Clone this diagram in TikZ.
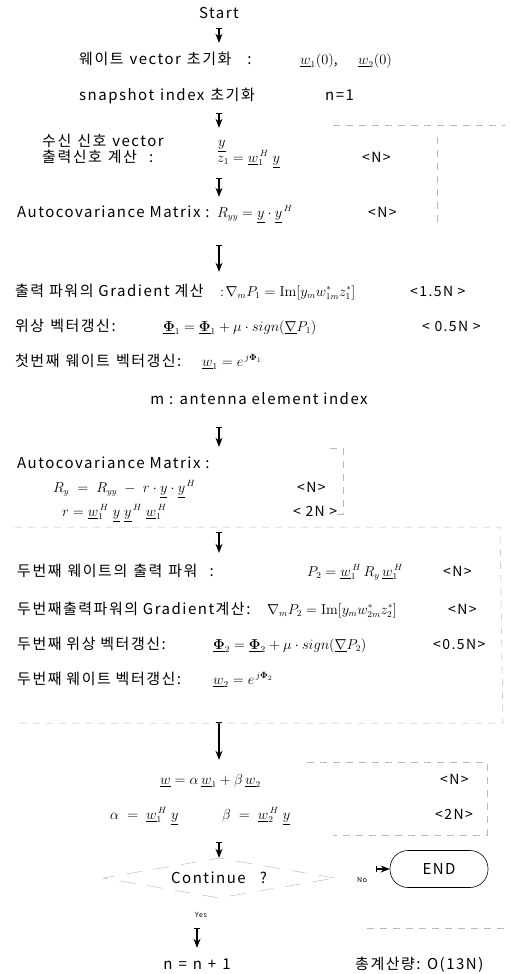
\documentclass[tikz,border=0pt]{standalone}
\usepackage{amsmath}
\usepackage[no-math]{fontspec}
\setmainfont{Noto Sans CJK KR}[LetterSpace=10]
\usepackage{tikz}
\usetikzlibrary{shapes.geometric, arrows.meta, positioning}

\newcommand{\uv}[1]{\underline{#1}}
\newcommand{\gap}{\hspace{6pt}}

\begin{document}
\begin{tikzpicture}[
        x=1pt, y=-1pt,
        txt/.style={anchor=west, inner sep=2pt, text height=11pt, text depth=3pt, font=\fontsize{15}{17}\selectfont},
        formula/.style={txt, font=\fontsize{13.5}{15}\selectfont},
        cost/.style={txt, font=\fontsize{14}{16}\selectfont},
        tag/.style={inner sep=1pt, font=\fontsize{7}{8}\selectfont},
        arrow/.style={{Bar[width=6pt]}-{Stealth[length=9pt, width=7pt]}, line width=1.1pt},
        frame/.style={draw=gray!55, dash pattern=on 7pt off 6pt, line width=0.5pt},
        decision/.style={diamond, draw=gray!60, dash pattern=on 16pt off 12pt, shape aspect=6, minimum width=232pt, minimum height=40pt, inner sep=1pt, font=\fontsize{15}{17}\selectfont},
        terminal/.style={rectangle, rounded corners=18pt, draw, line width=0.6pt, minimum width=98pt, minimum height=37pt, font=\fontsize{15}{17}\selectfont}
    ]
        \useasboundingbox (0,0) rectangle (510,974);

        % 1. Start / initialisation
        \node[txt, anchor=center] (start) at (219,15) {Start};
        \node[txt] (init) at (77,60) {웨이트\gap vector\gap 초기화\hspace{16pt}:};
        \node[formula] (initw1) at (298,60) {$\uv{w}_1(0)$,};
        \node[formula] (initw2) at (356,60) {$\uv{w}_2(0)$};
        \node[txt] (snap) at (77,96) {snapshot\gap index\gap 초기화};
        \node[txt] (snapn) at (323,96) {n=1};

        % 2. Received signal and autocovariance
        \node[txt] (rx1) at (40,142) {수신\gap 신호\gap vector};
        \node[formula] (rx1f) at (216,142) {$\uv{y}$};
        \node[txt] (rx2) at (40,158) {출력신호\gap 계산\hspace{12pt}:};
        \node[formula] (rx2f) at (215,158) {$z_1 = \uv{w}_1^{\,H}\;\uv{y}$};
        \node[cost] (rx2c) at (360,158) {<N>};
        \node[txt] (auto1) at (15,213) {Autocovariance Matrix :};
        \node[formula] (auto1f) at (215,213) {$R_{yy} = \uv{y}\cdot\uv{y}^{\,H}$};
        \node[cost] (auto1c) at (366,213) {<N>};

        % 3. First weight update
        \node[txt] (grad1) at (13,292) {출력 파워의 Gradient 계산};
        \node[formula] (grad1f) at (218,292) {$:\!\nabla_m P_1 = \mathrm{Im}[y_m w_{1m}^{*} z_1^{*}]$};
        \node[cost] (grad1c) at (408,292) {<1.5N >};
        \node[txt] (ph1) at (13,327) {위상\gap 벡터갱신:};
        \node[formula] (ph1f) at (161,327) {$\uv{\mathbf{\Phi}}_1 = \uv{\mathbf{\Phi}}_1 + \mu\cdot sign(\uv{\nabla} P_1)$};
        \node[cost] (ph1c) at (420,327) {< 0.5N >};
        \node[txt] (w1u) at (13,362) {첫번째\gap 웨이트\gap 벡터갱신:};
        \node[formula] (w1uf) at (200,362) {$\uv{w}_1 = e^{\,j\mathbf{\Phi}_1}$};
        \node[txt, anchor=center] (mi) at (259,400) {m : antenna element index};

        % 4. Second autocovariance
        \node[txt] (auto2) at (15,464) {Autocovariance Matrix :};
        \node[formula] (ryf) at (51,488) {$R_{y} \;=\; R_{yy} \;-\; r\cdot\uv{y}\cdot\uv{y}^{\,H}$};
        \node[cost] (ryc) at (295,488) {<N>};
        \node[formula] (rrf) at (60,512) {$r = \uv{w}_1^{\,H}\;\uv{y}\;\uv{y}^{\,H}\;\uv{w}_1^{\,H}$};
        \node[cost] (rrc) at (291,512) {< 2N >};

        % 5. Second weight update
        \node[txt] (p2) at (15,572) {두번째\gap 웨이트의\gap 출력\gap 파워\hspace{12pt}:};
        \node[formula] (p2f) at (305,572) {$P_2 = \uv{w}_1^{\,H}\, R_y\, \uv{w}_1^{\,H}$};
        \node[cost] (p2c) at (441,572) {<N>};
        \node[txt] (grad2) at (15,610) {두번째출력파워의 Gradient계산:};
        \node[formula] (grad2f) at (265,610) {$\nabla_m P_2 = \mathrm{Im}[y_m w_{2m}^{*} z_2^{*}]$};
        \node[cost] (grad2c) at (446,610) {<N>};
        \node[txt] (ph2) at (15,645) {두번째 위상 벡터갱신:};
        \node[formula] (ph2f) at (211,645) {$\uv{\mathbf{\Phi}}_2 = \uv{\mathbf{\Phi}}_2 + \mu\cdot sign(\uv{\nabla} P_2)$};
        \node[cost] (ph2c) at (431,645) {<0.5N>};
        \node[txt] (w2u) at (15,680) {두번째 웨이트 벡터갱신:};
        \node[formula] (w2uf) at (211,680) {$\uv{w}_2 = e^{\,j\mathbf{\Phi}_2}$};

        % 6. Combined weight
        \node[formula] (wsum) at (158,780) {$\uv{w} = \alpha\,\uv{w}_1 + \beta\,\uv{w}_2$};
        \node[cost] (wsumc) at (438,780) {<N>};
        \node[formula] (ab) at (108,815) {$\alpha \;=\; \uv{w}_1^{\,H}\;\uv{y}$};
        \node[formula] (bb) at (220,815) {$\beta \;=\; \uv{w}_2^{\,H}\;\uv{y}$};
        \node[cost] (abc) at (433,815) {<2N>};

        % 7. Decision and loop
        \node[decision] (cont) at (219,878) {Continue\hspace{14pt}?};
        \node[terminal] (endn) at (439,869) {END};
        \node[tag] (no) at (362,880) {No};
        \node[tag] (yes) at (201,915) {Yes};
        \node[txt, anchor=center] (nn) at (197,965) {n\gap =\gap n\gap +\gap 1};
        \node[txt] (total) at (353,965) {총계산량: O(13N)};

        % Ligações (setas do fluxo)
        \draw[arrow, shorten <=4pt, shorten >=8pt] (start.south) -- (start.south |- init.north);
        \draw[arrow, shorten <=8pt, shorten >=5pt] (start |- snap.south) -- (start |- rx1.north);
        \draw[arrow, shorten <=11pt, shorten >=7pt] (start |- rx2.south) -- (start |- auto1.north);
        \draw[arrow, shorten <=23pt, shorten >=11pt] (start |- auto1.south) -- (start |- grad1.north);
        \draw[arrow, shorten <=18pt, shorten >=8pt] (start |- mi.south) -- (start |- auto2.north);
        \draw[arrow, shorten <=11pt, shorten >=10pt] (start |- rrf.south) -- (start |- p2.north);
        \draw[arrow, shorten <=33pt, shorten >=11pt] (start |- w2u.south) -- (start |- wsum.north);
        \draw[arrow, shorten <=18pt] (start |- ab.south) -- (cont.north);
        \draw[arrow, shorten <=30pt, shorten >=8pt] (cont.south -| nn) -- (nn.north);
        \draw[arrow, shorten <=41pt] (cont.east |- endn.west) -- (endn.west);

        % Caixas tracejadas (restos do desenho original)
        \draw[frame] (333,125) -- (505,125);
        \draw[frame] (437,137) -- (437,222);
        \draw[frame] (330,448) -| (343,514) -- (330,514);
        \draw[frame] (15,527) -- (500,527) -- (503,723) -- (15,723);
        \draw[frame] (307,762) -| (487,835) -- (333,835);
        \draw[frame] (367,928) -- (510,928);

\end{tikzpicture}
\end{document}
